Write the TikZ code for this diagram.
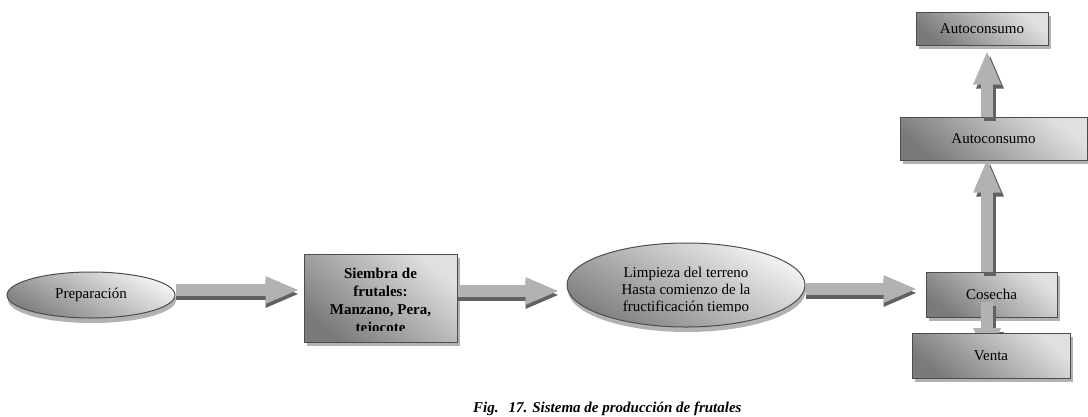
\documentclass[tikz,border=0pt]{standalone}
\usepackage{fontspec}
\setmainfont{Liberation Serif}
\usetikzlibrary{arrows.meta,shapes.geometric,shadows,calc}
\begin{document}
\begin{tikzpicture}[x=1pt,y=-1pt,
  every node/.style={font=\fontsize{15}{17}\selectfont, inner sep=0pt},
  box/.style={rectangle, draw=black!70, line width=1pt,
    top color=black!12, bottom color=black!52, shading angle=-40,
    drop shadow={shadow xshift=3pt, shadow yshift=-4pt, fill=black!30, opacity=1}},
  oval/.style={ellipse, draw=black!70, line width=1pt,
    top color=black!5, bottom color=black!50, shading angle=-30,
    drop shadow={shadow xshift=1pt, shadow yshift=-5pt, fill=black!30, opacity=1}},
  arr/.style={line width=12pt, draw=black!30, -{Triangle[length=34pt,width=25pt]}},
  arrsh/.style={line width=12pt, draw=black!62, -{Triangle[length=34pt,width=25pt]}},
  inner/.style={align=center}
]
\useasboundingbox (0,0) rectangle (1088,416);

% nodes
\node[oval, minimum width=168pt, minimum height=46pt] (prep) at (91,295) {Preparación};
\node[box, minimum width=153pt, minimum height=88pt] (siembra) at (380.5,298) {};
\begin{scope}
  \clip (306,256) rectangle (455,330.5);
  \node[inner, font=\fontsize{15}{18}\selectfont\bfseries] (siembratext) at (380.5,301.4)
    {Siembra de\\frutales:\\Manzano, Pera,\\tejocote};
\end{scope}
\node[oval, minimum width=238pt, minimum height=84pt] (limp) at (686,285) {};
\begin{scope}
  \clip (580,250) rectangle (790,311);
  \node[inner, font=\fontsize{15}{17}\selectfont] (limptext) at (686,290.6)
    {Limpieza del terreno\\Hasta comienzo de la\\fructificación tiempo};
\end{scope}
\node[box, minimum width=131pt, minimum height=45pt] (cosecha) at (991.5,294.5) {Cosecha};
\node[box, minimum width=187pt, minimum height=43pt] (auto2) at (993.5,138.5) {Autoconsumo};
\node[box, minimum width=132pt, minimum height=33pt] (auto1) at (982,28.5) {Autoconsumo};

% arrow to Venta (tip hidden behind the Venta box)
\coordinate (ventapos) at (991,355.5);
\draw[arrsh] ([shift={(-1.5pt,-11.5pt)}]cosecha.center) -- ([shift={(-1pt,-10.5pt)}]ventapos);
\draw[arr] ([shift={(-4.5pt,-7.5pt)}]cosecha.center) -- ([shift={(-4pt,-6.5pt)}]ventapos);
\node[box, minimum width=158pt, minimum height=45pt] (venta) at (ventapos) {Venta};

% horizontal arrows
\draw[arrsh, shorten >=4pt] ([yshift=1pt]prep.east) -- ([shift={(0pt,4pt)}]siembra.west);
\draw[arr, shorten >=4pt] ([yshift=5pt]prep.east) -- ([yshift=8pt]siembra.west);
\draw[arrsh, shorten >=7pt] ([yshift=3pt]siembra.east) -- ([yshift=-10pt]limp.west);
\draw[arr, shorten >=7pt] ([yshift=7pt]siembra.east) -- ([yshift=-6pt]limp.west);
\draw[arrsh, shorten >=8pt] ([yshift=-8pt]limp.east) -- ([yshift=1.5pt]cosecha.west);
\draw[arr, shorten >=8pt] ([yshift=-4pt]limp.east) -- ([yshift=5.5pt]cosecha.west);

% vertical arrows
\draw[arrsh, shorten >=-2pt] ([shift={(-1.5pt,-4pt)}]cosecha.north) -- ([shift={(-3.5pt,-4pt)}]auto2.south);
\draw[arr, shorten >=-2pt] ([xshift=-4.5pt]cosecha.north) -- ([xshift=-6.5pt]auto2.south);
\draw[arrsh, shorten >=5pt] ([shift={(-3.5pt,-4pt)}]auto2.north) -- ([shift={(8pt,-4pt)}]auto1.south);
\draw[arr, shorten >=5pt] ([xshift=-6.5pt]auto2.north) -- ([xshift=5pt]auto1.south);

% caption
\node[anchor=base west, font=\fontsize{15}{18}\selectfont\bfseries\itshape] (caption) at (473,412)
  {Fig.\hspace{10pt}17. Sistema de producción de frutales};
\end{tikzpicture}
\end{document}
